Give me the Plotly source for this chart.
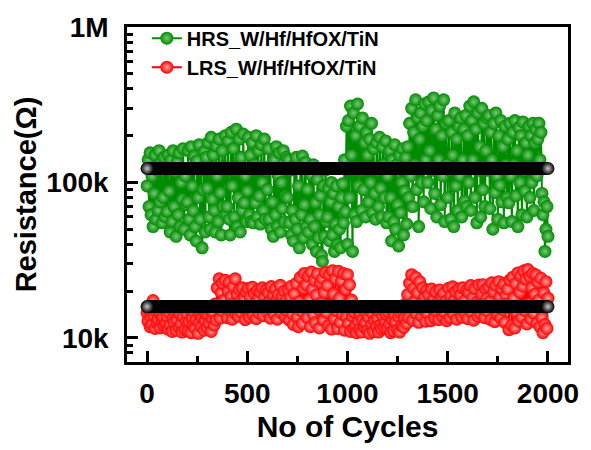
import plotly.graph_objects as go

# Cycle index (every 5th cycle sampled)
cycles = list(range(0, 2001, 5))

# HRS resistance (kOhm), 100 cycles per row
hrs_k = [
    95, 140, 70, 155, 62, 110, 52, 85, 150, 58, 120, 66, 160, 75, 135, 55, 80, 145, 60, 125,
    65, 150, 88, 48, 140, 56, 160, 70, 118, 45, 135, 62, 155, 52, 100, 78, 165, 50, 110, 72,
    75, 160, 58, 46, 170, 95, 66, 148, 52, 42, 138, 80, 175, 58, 120, 38, 90, 158, 48, 145,
    92, 180, 60, 50, 195, 78, 150, 66, 48, 172, 110, 56, 190, 86, 46, 160, 70, 125, 200, 62,
    70, 185, 58, 46, 210, 95, 165, 60, 120, 220, 52, 80, 190, 48, 145, 66, 205, 74, 110, 56,
    88, 195, 62, 150, 56, 180, 55, 130, 74, 200, 60, 160, 82, 54, 175, 100, 66, 190, 58, 120,
    90, 165, 58, 128, 50, 75, 45, 140, 62, 170, 52, 110, 155, 48, 100, 68, 160, 56, 82, 145,
    80, 140, 55, 120, 46, 66, 42, 130, 58, 145, 50, 95, 38, 125, 62, 148, 44, 72, 135, 52,
    90, 48, 125, 58, 112, 40, 130, 52, 74, 36, 105, 44, 62, 82, 34, 31, 95, 45, 120, 56,
    60, 92, 42, 75, 100, 46, 85, 36, 54, 95, 40, 70, 50, 38, 80, 98, 55, 140, 65, 230,
    40, 250, 80, 310, 150, 36, 280, 62, 200, 56, 320, 95, 230, 120, 66, 260, 90, 180, 60, 210,
    150, 75, 190, 100, 240, 64, 165, 85, 58, 180, 120, 70, 195, 92, 60, 170, 130, 80, 185, 55,
    110, 60, 160, 80, 42, 140, 56, 175, 50, 130, 72, 39, 150, 64, 100, 165, 46, 88, 145, 54,
    170, 80, 240, 110, 300, 70, 210, 130, 340, 90, 260, 52, 190, 280, 100, 230, 75, 320, 140, 250,
    100, 330, 160, 68, 290, 120, 350, 85, 220, 60, 270, 140, 310, 72, 200, 110, 340, 56, 240, 130,
    80, 250, 120, 58, 210, 150, 52, 280, 95, 190, 66, 230, 110, 260, 60, 140, 220, 76, 270, 70,
    200, 100, 310, 66, 250, 140, 330, 80, 220, 55, 280, 120, 170, 60, 300, 90, 240, 70, 160, 260,
    120, 270, 68, 210, 140, 50, 240, 86, 280, 110, 58, 200, 96, 250, 75, 170, 55, 230, 130, 80,
    190, 74, 240, 110, 56, 210, 130, 250, 82, 160, 52, 225, 100, 200, 62, 245, 120, 88, 180, 60,
    150, 230, 80, 200, 100, 240, 66, 180, 220, 110, 190, 240, 140, 210, 85, 62, 75, 36, 50, 70,
    45,
]

# LRS resistance (kOhm)
lrs_k = [
    14.5, 12.8, 15.2, 11.8, 13.5, 12.2, 17.4, 13.9, 11.5, 14.8, 12.5, 13.2, 15.0, 11.6, 14.0, 12.9, 13.6, 11.9, 15.3, 12.4,
    13.8, 11.4, 14.6, 12.1, 15.4, 11.0, 13.3, 12.6, 14.9, 11.2, 13.0, 15.1, 11.7, 14.2, 12.3, 10.9, 13.7, 15.5, 11.3, 12.8,
    14.4, 11.1, 12.7, 15.2, 10.8, 13.4, 12.0, 14.7, 11.5, 13.1, 15.3, 10.7, 12.5, 14.1, 11.8, 13.6, 15.0, 11.2, 12.9, 14.3,
    11.6, 13.9, 12.4, 15.1, 11.0, 13.2, 14.6, 12.1, 16.5, 13.0, 21.0, 15.5, 24.0, 13.4, 19.5, 22.5, 14.8, 17.5, 23.5, 16.0,
    13.5, 20.0, 22.8, 15.0, 18.5, 13.2, 21.5, 16.8, 24.0, 14.2, 19.0, 13.8, 20.5, 17.2, 14.6, 21.0, 15.6, 18.0, 13.1, 19.8,
    16.2, 20.8, 13.6, 18.4, 15.0, 21.2, 14.0, 19.3, 16.6, 13.3, 20.2, 17.8, 14.4, 19.7, 15.4, 21.0, 13.9, 18.1, 16.4, 20.4,
    14.7, 19.5, 16.9, 13.4, 21.4, 15.2, 18.8, 14.1, 20.6, 17.3, 13.2, 19.0, 15.8, 21.8, 14.5, 18.5, 16.1, 20.0, 13.7, 17.6,
    15.0, 20.3, 13.0, 18.2, 21.5, 14.3, 12.2, 19.2, 16.3, 22.4, 13.6, 11.8, 17.1, 24.5, 14.9, 12.4, 20.8, 26.0, 15.6, 22.0,
    13.5, 25.0, 17.6, 11.8, 26.5, 20.5, 14.1, 23.6, 12.5, 18.9, 25.8, 15.3, 11.6, 22.7, 16.8, 24.2, 13.0, 19.6, 26.3, 14.6,
    21.8, 12.0, 25.5, 16.2, 11.4, 27.0, 19.2, 13.3, 24.0, 15.0, 11.5, 26.8, 18.0, 12.6, 23.2, 14.2, 26.0, 11.2, 20.5, 13.6,
    25.5, 12.4, 22.0, 11.0, 17.5, 13.8, 11.5, 14.6, 12.0, 10.8, 15.2, 12.8, 11.3, 14.0, 10.9, 13.1, 15.4, 11.7, 12.5, 14.3,
    11.2, 13.6, 10.7, 15.0, 12.2, 14.4, 11.0, 12.9, 15.3, 11.8, 13.4, 10.9, 14.8, 12.1, 11.4, 13.9, 15.1, 11.6, 12.7, 14.1,
    11.5, 14.7, 12.3, 10.8, 15.2, 13.0, 11.1, 14.0, 12.6, 15.5, 11.3, 13.7, 10.9, 14.5, 12.0, 15.0, 11.7, 13.3, 16.5, 12.4,
    19.0, 13.5, 22.5, 15.8, 25.5, 13.0, 20.8, 17.2, 24.5, 14.2, 19.6, 12.6, 23.0, 16.4, 13.8, 21.0, 15.1, 18.4, 12.8, 20.2,
    14.4, 19.0, 16.1, 12.9, 20.6, 15.3, 17.8, 13.4, 19.8, 14.8, 16.9, 13.1, 20.3, 15.7, 18.3, 13.7, 19.4, 14.6, 17.2, 12.9,
    16.4, 20.9, 13.5, 18.6, 15.0, 21.3, 14.2, 17.7, 19.9, 13.2, 16.6, 20.6, 14.9, 18.9, 13.6, 21.0, 15.5, 17.4, 14.1, 20.2,
    13.3, 19.6, 16.0, 21.7, 14.6, 18.2, 13.0, 20.8, 15.9, 17.0, 13.8, 21.9, 16.7, 14.3, 19.2, 22.0, 15.2, 13.5, 20.5, 17.9,
    14.8, 21.2, 17.1, 13.1, 22.6, 15.6, 19.8, 12.7, 21.8, 16.2, 14.0, 23.0, 18.4, 13.4, 20.7, 15.3, 22.2, 12.6, 18.8, 16.5,
    20.6, 11.3, 23.5, 15.8, 12.0, 24.6, 18.0, 11.6, 22.4, 14.5, 26.2, 12.8, 19.7, 25.0, 13.6, 21.5, 27.0, 15.0, 23.8, 12.3,
    27.5, 16.6, 24.8, 13.2, 21.0, 26.0, 14.4, 19.1, 25.4, 12.5, 22.8, 17.5, 11.8, 24.2, 13.5, 10.8, 19.5, 12.2, 23.0, 11.5,
    18.0,
]

assert len(hrs_k) == len(cycles), len(hrs_k)
assert len(lrs_k) == len(cycles), len(lrs_k)

hrs = [v * 1000 for v in hrs_k]
lrs = [v * 1000 for v in lrs_k]

# Mean levels (black bars)
mean_cycles = [0, 2000]
hrs_mean = 123000
lrs_mean = 15900

y_tickvals = [1e4, 1e5, 1e6]
y_ticktext = ["10k", "100k", "1M"]
x_tickvals = [0, 500, 1000, 1500, 2000]

FONT = "Liberation Sans, Arial, sans-serif"
GREEN = "rgb(0,140,0)"
RED = "rgb(255,0,0)"

fig = go.Figure()
fig.add_trace(go.Scatter(
    x=cycles, y=hrs, mode="lines+markers", name="HRS_W/Hf/HfOX/TiN",
    line=dict(color=GREEN, width=2),
    marker=dict(color=GREEN, size=13, line=dict(width=0),
                gradient=dict(type="radial", color="rgb(120,200,120)")),
))
fig.add_trace(go.Scatter(
    x=cycles, y=lrs, mode="lines+markers", name="LRS_W/Hf/HfOX/TiN",
    line=dict(color=RED, width=2),
    marker=dict(color=RED, size=13, line=dict(width=0),
                gradient=dict(type="radial", color="rgb(255,160,160)")),
))
for m in (hrs_mean, lrs_mean):
    fig.add_trace(go.Scatter(
        x=mean_cycles, y=[m, m], mode="lines+markers", showlegend=False,
        line=dict(color="black", width=13),
        marker=dict(color="black", size=13, line=dict(width=0),
                    gradient=dict(type="radial", color="rgb(200,200,200)")),
    ))

fig.update_layout(
    width=591, height=450,
    margin=dict(l=127, r=20, t=24, b=85),
    paper_bgcolor="white", plot_bgcolor="white",
    font=dict(family=FONT, color="black"),
    showlegend=True,
    legend=dict(x=0.045, y=1.025, xanchor="left", yanchor="top",
                bgcolor="rgba(0,0,0,0)", borderwidth=0,
                font=dict(family=FONT, size=20, color="black", weight="bold"),
                tracegroupgap=0),
)
fig.update_xaxes(
    range=[-100, 2100], tickvals=x_tickvals,
    showline=True, linecolor="black", linewidth=2.5, mirror=True,
    ticks="inside", ticklen=11, tickwidth=2.5, tickcolor="black",
    minor=dict(ticks="inside", ticklen=6, tickwidth=2.5, dtick=250, tick0=0, tickcolor="black", showgrid=False),
    showgrid=False, zeroline=False,
    tickfont=dict(family=FONT, size=28, color="black", weight="bold"),
    ticklabelstandoff=5,
    title=dict(text="No of Cycles", standoff=8,
               font=dict(family=FONT, size=30, color="black", weight="bold")),
)
fig.update_yaxes(
    type="log", range=[3.845, 6.0], tickvals=y_tickvals, ticktext=y_ticktext,
    showline=True, linecolor="black", linewidth=2.5, mirror=True,
    ticks="inside", ticklen=11, tickwidth=2.5, tickcolor="black",
    minor=dict(ticks="inside", ticklen=6, tickwidth=2.5, dtick="D1", tickcolor="black", showgrid=False),
    showgrid=False, zeroline=False,
    tickfont=dict(family=FONT, size=28, color="black", weight="bold"),
    ticklabelstandoff=10,
    title=dict(text="Resistance(Ω)", standoff=2,
               font=dict(family=FONT, size=29, color="black", weight="bold")),
)

fig.write_html("out.html")
